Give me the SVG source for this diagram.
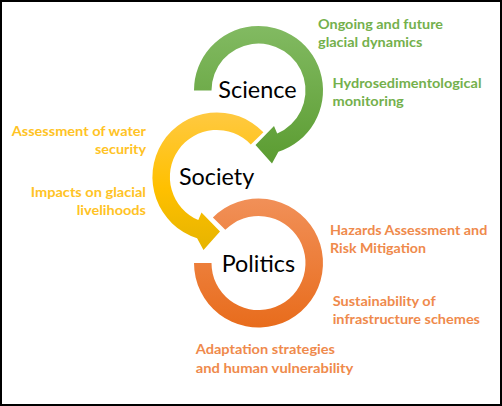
<svg xmlns="http://www.w3.org/2000/svg" width="502" height="406" viewBox="0 0 502 406">
<defs>
<linearGradient id="gGreen" x1="0" y1="0" x2="0" y2="1"><stop offset="0" stop-color="#82BA62"/><stop offset="1" stop-color="#5B9C31"/></linearGradient>
<linearGradient id="gYellow" x1="0" y1="0" x2="0" y2="1"><stop offset="0" stop-color="#FFC941"/><stop offset="0.55" stop-color="#FFC000"/><stop offset="1" stop-color="#E6B400"/></linearGradient>
<linearGradient id="gOrange" x1="0" y1="0" x2="0" y2="1"><stop offset="0" stop-color="#F19058"/><stop offset="1" stop-color="#E86C1C"/></linearGradient>
</defs>
<style>
.main{font-family:Lato,"Liberation Sans",sans-serif;font-size:23.5px;fill:#000;}
.lbl{font-family:Lato,"Liberation Sans",sans-serif;font-size:14px;font-weight:bold;}
.gr{fill:#74B04C;}
.ye{fill:#FFC325;}
.or{fill:#EF8A4C;}
</style>
<rect x="1" y="1" width="500" height="404" fill="#fff" stroke="#000" stroke-width="2"/>
<g id="connectors"></g>
<g id="science">
<path fill="url(#gGreen)" d="M194,90.5 A64.5,64.5 0 1 1 278.4,151.8 L272,163.5 L255.5,145 L274,126 L277.2,133.6 A47,47 0 1 0 211.5,90.5 Z"/>
<text class="main" x="218.3" y="98" textLength="78.3" lengthAdjust="spacingAndGlyphs">Science</text>
<text class="lbl gr" x="318" y="29" textLength="125" lengthAdjust="spacingAndGlyphs">Ongoing and future</text>
<text class="lbl gr" x="318" y="47" textLength="104.3" lengthAdjust="spacingAndGlyphs">glacial dynamics</text>
<text class="lbl gr" x="332.5" y="87.5" textLength="149" lengthAdjust="spacingAndGlyphs">Hydrosedimentological</text>
<text class="lbl gr" x="332.5" y="106" textLength="71.3" lengthAdjust="spacingAndGlyphs">monitoring</text>
</g>
<g id="society">
<path fill="url(#gYellow)" d="M263.4,132.2 A64.5,64.5 0 1 0 197.1,238.3 L203.5,250 L220,231.5 L201.5,212.5 L198.3,220.1 A47,47 0 1 1 250.8,144.4 Z"/>
<text class="main" x="179" y="185" textLength="75.3" lengthAdjust="spacingAndGlyphs">Society</text>
<text class="lbl ye" x="11.7" y="136" textLength="134.3" lengthAdjust="spacingAndGlyphs">Assessment of water</text>
<text class="lbl ye" x="95" y="154.3" textLength="51" lengthAdjust="spacingAndGlyphs">security</text>
<text class="lbl ye" x="30.7" y="196.7" textLength="115.3" lengthAdjust="spacingAndGlyphs">Impacts on glacial</text>
<text class="lbl ye" x="76.7" y="215" textLength="69.3" lengthAdjust="spacingAndGlyphs">livelihoods</text>
</g>
<g id="politics">
<path fill="url(#gOrange)" d="M194,263 A64.5,64.5 0 1 0 212.9,217.4 L225.3,229.8 A47,47 0 1 1 211.5,263 Z"/>
<text class="main" x="221.7" y="271.7" textLength="73.3" lengthAdjust="spacingAndGlyphs">Politics</text>
<text class="lbl or" x="330" y="235" textLength="157.3" lengthAdjust="spacingAndGlyphs">Hazards Assessment and</text>
<text class="lbl or" x="330" y="253.3" textLength="96" lengthAdjust="spacingAndGlyphs">Risk Mitigation</text>
<text class="lbl or" x="332.7" y="305.7" textLength="103" lengthAdjust="spacingAndGlyphs">Sustainability of</text>
<text class="lbl or" x="332.7" y="324" textLength="147.3" lengthAdjust="spacingAndGlyphs">infrastructure schemes</text>
<text class="lbl or" x="195.7" y="354" textLength="139.3" lengthAdjust="spacingAndGlyphs">Adaptation strategies</text>
<text class="lbl or" x="195.7" y="372.7" textLength="157.7" lengthAdjust="spacingAndGlyphs">and human vulnerability</text>
</g>
</svg>
